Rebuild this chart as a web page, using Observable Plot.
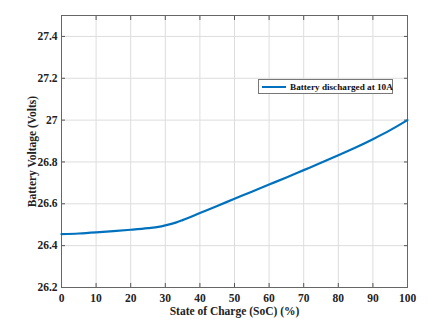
<!DOCTYPE html>
<html><head><meta charset="utf-8">
<script src="https://cdn.jsdelivr.net/npm/d3@7"></script>
<script src="https://cdn.jsdelivr.net/npm/@observablehq/plot@0.6"></script>
<style>
body{margin:0;background:#fff;}
#wrap{position:relative;width:435px;height:328px;}
#legend{position:absolute;left:258px;top:79px;width:135px;border:1px solid #777;background:#fff;font:bold 9.2px "Liberation Serif",serif;color:#111;display:flex;align-items:center;white-space:nowrap;overflow:visible;box-sizing:border-box;height:15px;}
#legend .sw{flex:none;width:24px;height:2px;background:#0072BD;margin:0 4px 0 3px;}
</style></head>
<body><div id="wrap"><div id="legend"><span class="sw"></span><span id="lt"></span></div></div>
<script>
const soc = [0,5,10,15,20,25,28,30,33,35,40,45,50,55,60,65,70,75,80,85,90,95,100];
const voltage = [26.455,26.458,26.463,26.469,26.476,26.484,26.49,26.497,26.51,26.522,26.556,26.59,26.624,26.658,26.692,26.726,26.761,26.796,26.832,26.869,26.909,26.952,27.0];
const xTicks = [0,10,20,30,40,50,60,70,80,90,100];
const yTicks = [26.2,26.4,26.6,26.8,27,27.2,27.4];
const seriesName = "Battery discharged at 10A";
document.getElementById("lt").textContent = seriesName;
const data = soc.map((s,i)=>({soc:s, v:voltage[i]}));
const chart = Plot.plot({
  width:435, height:328,
  marginLeft:61, marginRight:28, marginTop:15, marginBottom:41,
  style:{fontFamily:"'Liberation Serif',serif", fontWeight:"bold", fontSize:"11.5px", color:"#222", background:"#fff"},
  x:{domain:[0,100]},
  y:{domain:[26.2,27.5]},
  marks:[
    Plot.gridX(xTicks,{stroke:"#ddd", strokeOpacity:1}),
    Plot.gridY(yTicks,{stroke:"#ddd", strokeOpacity:1}),
    Plot.axisX({ticks:xTicks, tickSize:-4, tickPadding:10, tickFormat:d=>d, label:null, stroke:"#555"}),
    Plot.axisX({anchor:"top", ticks:xTicks, tickSize:-4, tickFormat:()=>"", label:null, stroke:"#555"}),
    Plot.axisY({ticks:yTicks, tickSize:-4, tickPadding:8, tickFormat:d=>String(d), label:null, stroke:"#555"}),
    Plot.axisY({anchor:"right", ticks:yTicks, tickSize:-4, tickFormat:()=>"", label:null, stroke:"#555"}),
    Plot.frame({stroke:"#666"}),
    Plot.line(data,{x:"soc", y:"v", stroke:"#0072BD", strokeWidth:2.2, curve:"monotone-x"}),
    Plot.text(["State of Charge (SoC) (%)"],{frameAnchor:"bottom", dy:27, fontSize:11.5, fontWeight:"bold", fill:"#222"}),
    Plot.text(["Battery Voltage (Volts)"],{frameAnchor:"left", dx:-29, rotate:-90, textAnchor:"middle", fontSize:11.5, fontWeight:"bold", fill:"#222"})
  ]
});
document.getElementById("wrap").prepend(chart);
chart.style.position="absolute"; chart.style.left="0"; chart.style.top="0";
</script></body></html>
